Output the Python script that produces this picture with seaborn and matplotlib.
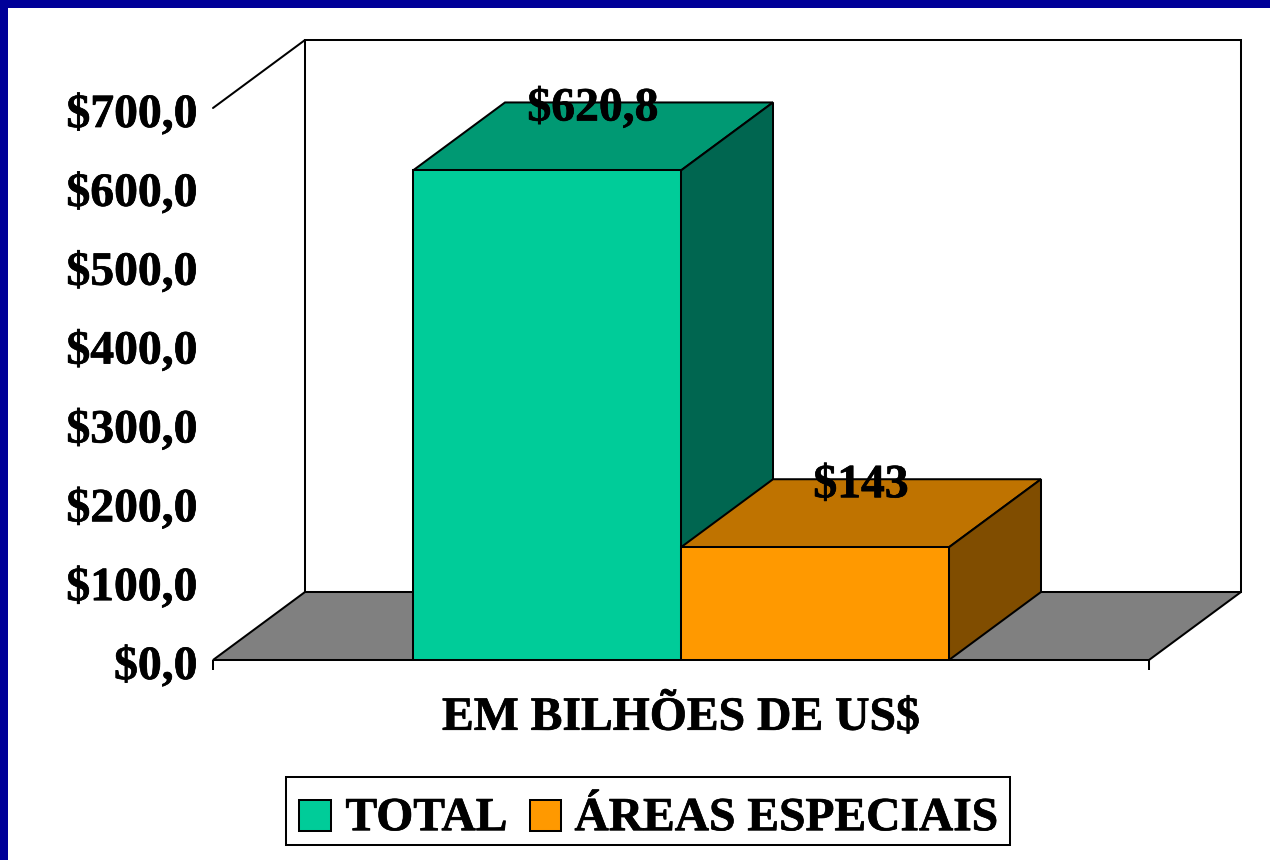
import matplotlib
matplotlib.use("Agg")
import matplotlib.pyplot as plt
import matplotlib.patheffects as pe
import seaborn as sns
import pandas as pd
from matplotlib.patches import Polygon, Rectangle
from matplotlib.transforms import ScaledTranslation

group = ["EM BILHÕES DE US$", "EM BILHÕES DE US$"]
series = ["TOTAL", "ÁREAS ESPECIAIS"]
values = [620.8, 143.0]
value_labels = ["$620,8", "$143"]
yticks = [0, 100, 200, 300, 400, 500, 600, 700]
ytick_labels = ["$0,0", "$100,0", "$200,0", "$300,0", "$400,0", "$500,0", "$600,0", "$700,0"]
front_colors = ["#00CC99", "#FF9900"]
top_colors = ["#009973", "#BF7300"]
side_colors = ["#006650", "#804D00"]

W, H = 1270, 860
sns.set_style("white")
plt.rcParams["font.family"] = ["Liberation Serif", "DejaVu Serif"]
plt.rcParams["font.weight"] = "bold"
FS = 34.3
LW = 1.45
heavy = [pe.withStroke(linewidth=0.5, foreground="black")]

fig = plt.figure(figsize=(W / 100, H / 100), dpi=100, facecolor="#000099")
fig.patches.append(Rectangle((8 / W, 0), 1, 1 - 8 / H, transform=fig.transFigure,
                             facecolor="white", edgecolor="none", zorder=-10))
L, R, T, B = 213, 1149, 108, 660
ax = fig.add_axes([L / W, 1 - B / H, (R - L) / W, (B - T) / H])
ax.patch.set_alpha(0)

df = pd.DataFrame({"grupo": group, "serie": series, "valor": values})
sns.barplot(data=df, x="grupo", y="valor", hue="serie", hue_order=series,
            palette=front_colors, width=1, gap=0, saturation=1,
            edgecolor="black", linewidth=LW, ax=ax, zorder=6)

px_x = 536.0
xl = (-(681 - L) / px_x, (R - 681) / px_x)
ax.set_xlim(*xl)
ax.set_ylim(0, 700)
px_y = (B - T) / 700
dx, dy = 92 / px_x, 68 / px_y

# back wall, floor, left wall edge
ax.add_patch(Rectangle((xl[0] + dx, dy), xl[1] - xl[0], 700, facecolor="white", edgecolor="black",
                       linewidth=LW, clip_on=False, zorder=1))
ax.add_patch(Polygon([(xl[0], 0), (xl[1], 0), (xl[1] + dx, dy), (xl[0] + dx, dy)], closed=True,
                     facecolor="#808080", edgecolor="black", linewidth=LW, clip_on=False, zorder=2))
ax.plot([xl[0], xl[0] + dx], [700, 700 + dy], color="black", lw=LW, clip_on=False, zorder=2)

# 3D faces built from the bars drawn by seaborn
bars = [p for c in ax.containers for p in c]
for i, bar in enumerate(bars):
    x0, x1, h = bar.get_x(), bar.get_x() + bar.get_width(), bar.get_height()
    z = 3 + i * 0.5
    ax.add_patch(Polygon([(x0, h), (x1, h), (x1 + dx, h + dy), (x0 + dx, h + dy)], closed=True,
                         facecolor=top_colors[i], edgecolor="black", linewidth=LW, clip_on=False, zorder=z))
    ax.add_patch(Polygon([(x1, 0), (x1, h), (x1 + dx, h + dy), (x1 + dx, dy)], closed=True,
                         facecolor=side_colors[i], edgecolor="black", linewidth=LW, clip_on=False, zorder=z))
    ax.annotate(value_labels[i], xy=((x0 + x1) / 2, h), xytext=(46 * 0.72, 62 * 0.72),
                textcoords="offset points", ha="center", va="center", fontsize=FS,
                fontweight="bold", color="black", zorder=10, annotation_clip=False,
                path_effects=heavy)

for s in ax.spines.values():
    s.set_visible(False)
ax.set_yticks(yticks)
ax.set_yticklabels(ytick_labels, fontsize=FS, fontweight="bold", color="black", path_effects=heavy)
ax.tick_params(axis="y", length=0, pad=11)
shift = ScaledTranslation(0, -2 / 100, fig.dpi_scale_trans)
for t in ax.get_yticklabels():
    t.set_transform(t.get_transform() + shift)
ax.set_xticks(list(xl))
ax.set_xticklabels(["", ""])
ax.tick_params(axis="x", length=7.2, width=LW, color="black", bottom=True, pad=0)
ax.set_ylabel("")
ax.set_xlabel("")
fig.text(681 / W, 1 - 717 / H, group[0], ha="center", va="center", fontsize=FS,
         fontweight="bold", color="black", path_effects=heavy)

handles, labels = ax.get_legend_handles_labels()
LFS = 34.2
leg = ax.legend(handles, labels, loc="center", bbox_to_anchor=(648 / W, 1 - 811 / H),
                bbox_transform=fig.transFigure, ncols=2, frameon=True, fancybox=False,
                edgecolor="black", framealpha=1, labelcolor="black",
                prop={"family": "Liberation Serif", "weight": "bold", "size": LFS},
                handlelength=0.66, handleheight=0.64, handletextpad=0.27,
                columnspacing=0.48, borderpad=0.28, borderaxespad=0)
leg.get_frame().set_linewidth(LW)
leg.set_zorder(20)
for t in leg.get_texts():
    t.set_position((2, -8))
    t.set_path_effects(heavy)
for h, nudge in zip(leg.legend_handles, (0, 1)):
    h.set_y(h.get_y() - 7)
    h.set_x(h.get_x() + nudge)
    h.set_linewidth(LW)

fig.savefig("out.png", dpi=100, facecolor=fig.get_facecolor())
